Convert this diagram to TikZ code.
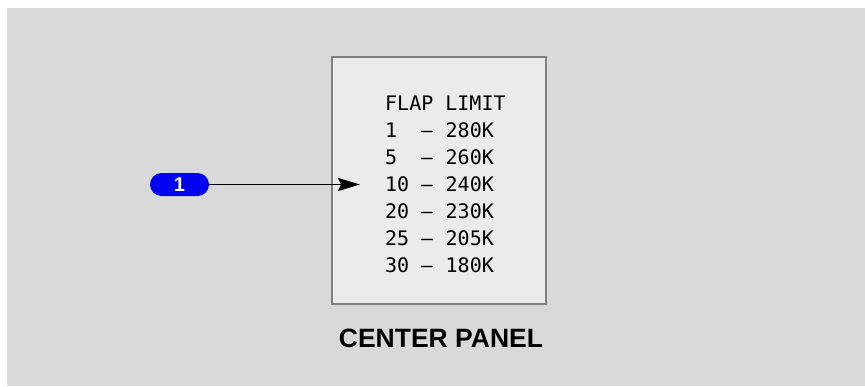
\documentclass[tikz,border=0pt]{standalone}
\usepackage{fontspec}
\setmainfont{Liberation Sans}
\setmonofont{DejaVu Sans Mono}
\usepackage{xcolor}
\usetikzlibrary{arrows.meta, positioning}

\definecolor{bggray}{HTML}{D9D9D9}
\definecolor{panelgray}{HTML}{EBEBEB}
\definecolor{framegray}{HTML}{808080}
\definecolor{badgeblue}{HTML}{0000F0}

\begin{document}
\begin{tikzpicture}[x=1pt, y=-1pt, >=Stealth,
  rowtext/.style={anchor=base west, inner sep=0pt, font=\ttfamily\fontsize{20}{24}\selectfont},
  badge/.style={fill=badgeblue, rounded corners=11.5pt, minimum width=59pt, minimum height=23pt,
    inner sep=0pt, text=white, font=\bfseries\fontsize{20}{22}\selectfont}]
  \useasboundingbox (0,0) rectangle (865,386);
  % background
  \fill[bggray] (7,8) rectangle (865,386);
  % center panel
  \draw[framegray, fill=panelgray, line width=1.5pt] (332,57) rectangle (546,304);
  \node[rowtext] (head) at (385,110) {FLAP LIMIT};
  \foreach \flap/\spd [count=\i] in {1/280K, 5/260K, 10/240K, 20/230K, 25/205K, 30/180K} {
    \node[rowtext] (flap\i) at (385,110+27*\i) {\flap};
    \node[rowtext] (dash\i) at (421,110+27*\i) {\textendash};
    \node[rowtext] (spd\i) at (445.5,110+27*\i) {\spd};
  }
  \node[font=\bfseries\fontsize{26.5}{30}\selectfont] (title) at (441,338) {CENTER PANEL};
  % callout
  \node[badge] (one) at (179.5,184.5) {1};
  \coordinate (tip) at (360,184.5);
  \draw[->, line width=1.6pt, >={Stealth[length=22pt, width=13pt, inset=3pt]}] (one.east) -- (tip);
\end{tikzpicture}
\end{document}
